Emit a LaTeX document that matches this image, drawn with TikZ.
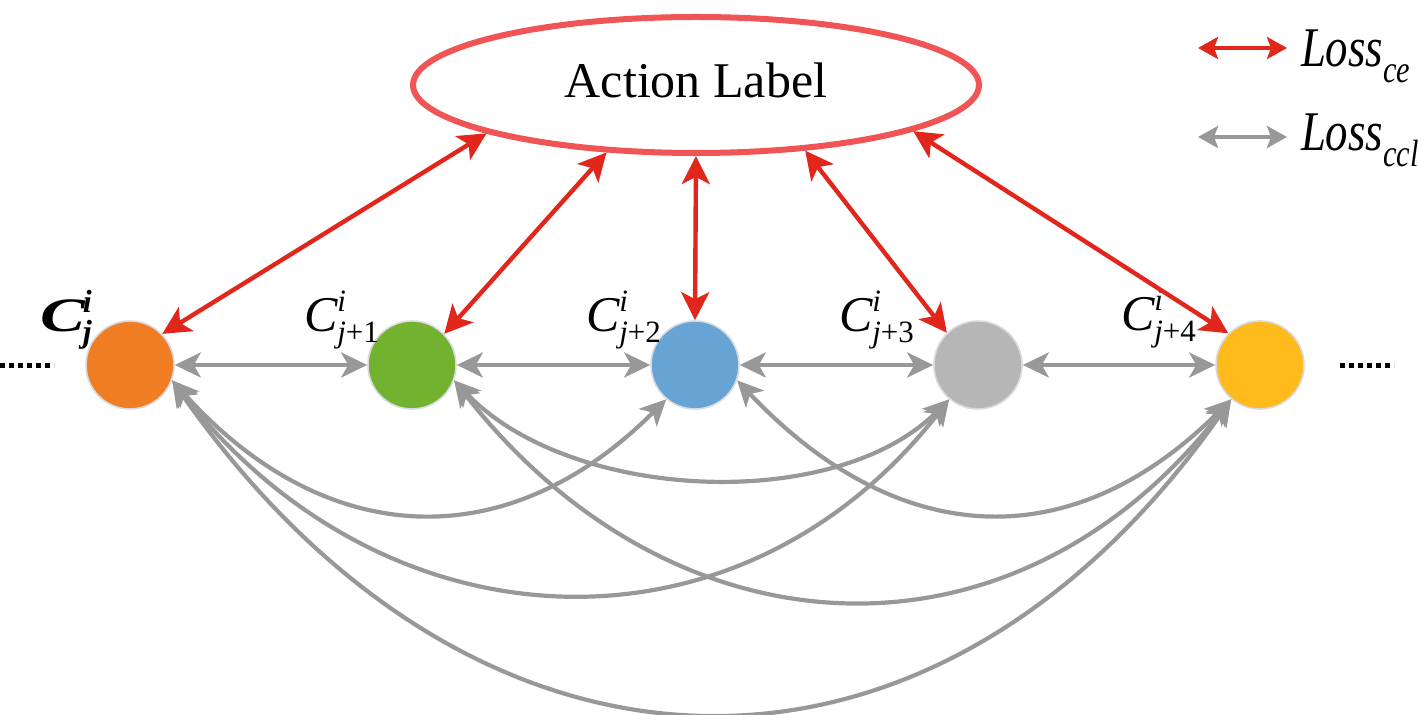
\documentclass[tikz,border=0pt]{standalone}
\usepackage{fontspec}
\setmainfont{Liberation Serif}
\usepackage{graphicx}
\usetikzlibrary{arrows.meta,shapes.geometric}
\definecolor{corange}{RGB}{240,125,34}
\definecolor{cgreen}{RGB}{114,178,46}
\definecolor{cblue}{RGB}{103,163,213}
\definecolor{cgray}{RGB}{182,182,182}
\definecolor{cyellow}{RGB}{255,187,28}
\definecolor{ringgray}{RGB}{215,218,225}
\definecolor{ellred}{RGB}{240,84,84}
\definecolor{arrred}{RGB}{225,38,28}
\definecolor{arrgray}{RGB}{152,152,152}
\newcommand\clab[1]{\fontsize{25}{25}\selectfont\itshape C\rlap{\raisebox{10pt}{\fontsize{15.5}{15.5}\selectfont i}}\raisebox{-5.5pt}{\fontsize{15.5}{15.5}\selectfont j\upshape #1}}
\newcommand\clabfirst{\fontsize{24}{24}\selectfont\bfseries\itshape \scalebox{1.4}[1]{C}\kern-1pt\rlap{\raisebox{9.5pt}{\fontsize{16}{16}\selectfont i}}\raisebox{-5.5pt}{\fontsize{16}{16}\selectfont j}}
\newcommand\losslab[1]{\scalebox{0.8}[1]{\fontsize{28}{28}\selectfont\itshape Loss\raisebox{-8pt}{\fontsize{19}{19}\selectfont #1}}}
\begin{document}
\begin{tikzpicture}[x=0.5pt,y=-0.5pt,
  cnode/.style={circle, minimum size=44pt, inner sep=0pt, draw=ringgray, line width=0.8pt},
  rar/.style={draw=arrred, line width=2.2pt, arrows={Stealth[length=14pt,width=14pt,inset=3.5pt]-Stealth[length=14pt,width=14pt,inset=3.5pt]}},
  gar/.style={draw=arrgray, line width=2.1pt, arrows={Stealth[length=13pt,width=12.5pt,inset=3.5pt]-Stealth[length=13pt,width=12.5pt,inset=3.5pt]}},
  legar/.style={line width=2.2pt, arrows={Stealth[length=10pt,width=11pt,inset=2pt]-Stealth[length=10pt,width=11pt,inset=2pt]}},
  dotline/.style={line width=2.5pt, dash pattern=on 2.5pt off 2pt},
  lab/.style={anchor=base west, inner sep=0pt, outer sep=0pt}]
\useasboundingbox (0,0) rectangle (1418,715);

% circles
\node[cnode, fill=corange] (c1) at (130,365) {};
\node[cnode, fill=cgreen] (c2) at (412,365) {};
\node[cnode, fill=cblue] (c3) at (695,365) {};
\node[cnode, fill=cgray] (c4) at (978,365) {};
\node[cnode, fill=cyellow] (c5) at (1260,365) {};

% ellipse
\node[ellipse, draw=ellred, line width=3pt, minimum width=283pt, minimum height=68pt, inner sep=0pt] (ell) at (696,85) {};
\node[inner sep=0pt, anchor=base] (acttext) at (696,98) {\fontsize{25}{30}\selectfont Action Label};

% labels
\node[lab] (l1) at (40,332) {\clabfirst};
\node[lab] (l2) at (304,332) {\clab{+1}};
\node[lab] (l3) at (586,332) {\clab{+2}};
\node[lab] (l4) at (839,332) {\clab{+3}};
\node[lab] (l5) at (1121,331) {\clab{+4}};

% red arrows
\draw[rar] (ell.-167) -- (c1.44);
\draw[rar] (ell.-143) -- (c2.44);
\draw[rar] (ell.-90) -- (c3.90);
\draw[rar] (ell.-31) -- (c4.134);
\draw[rar] (ell.-12) -- (c5.135);

% gray straight arrows
\draw[gar] (c1) -- (c2);
\draw[gar] (c2) -- (c3);
\draw[gar] (c3) -- (c4);
\draw[gar] (c4) -- (c5);

% gray curved arrows
\draw[gar] (c1.-20) .. controls +(152,169) and +(-160,160) .. (c3.-130);
\draw[gar] (c2.-20) .. controls +(115,121) and +(-115,115) .. (c4.-130);
\draw[gar] (c3.-20) .. controls +(160,169) and +(-160,160) .. (c5.-130);
\draw[gar] (c1.-20) .. controls +(212,271) and +(-212,271) .. (c4.-130);
\draw[gar] (c2.-20) .. controls +(219,280) and +(-219,280) .. (c5.-130);
\draw[gar] (c1.-20) .. controls +(301,430) and +(-301,430) .. (c5.-130);

% dots
\coordinate (dl1) at (0,366); \coordinate (dl2) at (54,366);
\coordinate (dr1) at (1340,366); \coordinate (dr2) at (1394,366);
\draw[dotline] (dl1) -- (dl2);
\draw[dotline] (dr1) -- (dr2);

% legend
\coordinate (lr1) at (1198,48); \coordinate (lr2) at (1287,48);
\coordinate (lg1) at (1198,137); \coordinate (lg2) at (1287,137);
\draw[legar, draw=arrred] (lr1) -- (lr2);
\draw[legar, draw=arrgray] (lg1) -- (lg2);
\node[lab] (lce) at (1301,67) {\losslab{ce}};
\node[lab] (lccl) at (1301,151) {\losslab{ccl}};
\end{tikzpicture}
\end{document}
